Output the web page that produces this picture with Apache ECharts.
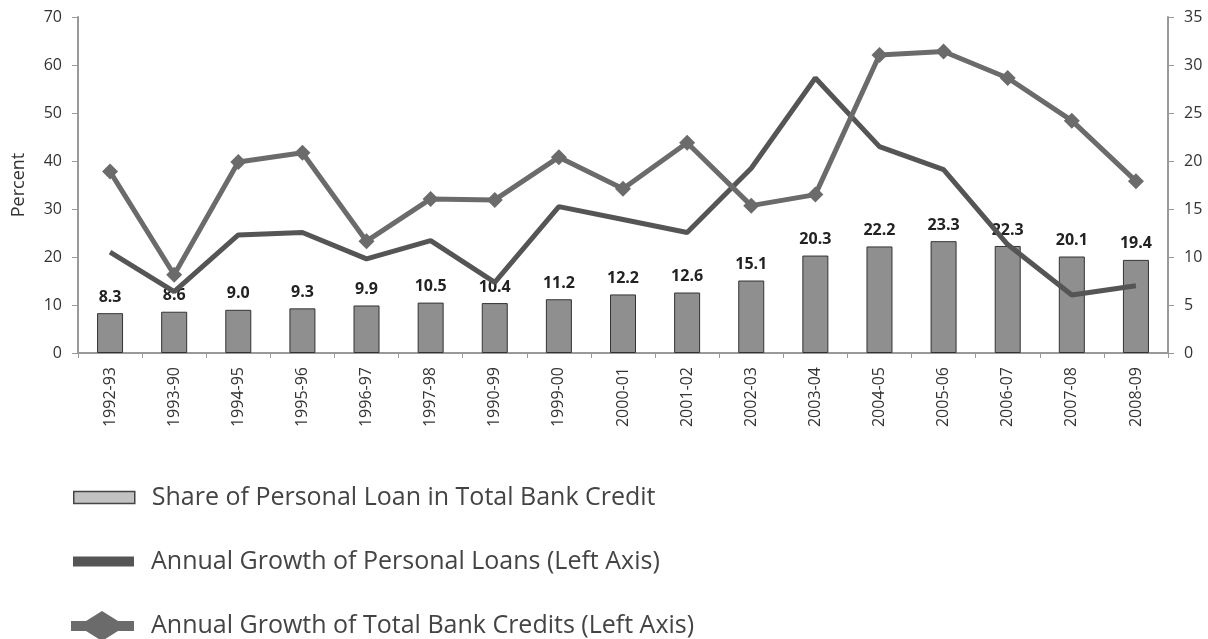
<!DOCTYPE html>
<html><head><meta charset="utf-8">
<script src="https://cdn.jsdelivr.net/npm/echarts@6/dist/echarts.min.js"></script>
<style>html,body{margin:0;padding:0;background:#fff}#c{width:1208px;height:639px}</style>
</head><body><div id="c"></div>
<script>
const categories = ['1992-93','1993-90','1994-95','1995-96','1996-97','1997-98','1990-99','1999-00','2000-01','2001-02','2002-03','2003-04','2004-05','2005-06','2006-07','2007-08','2008-09'];
const shareValues = [8.3,8.6,9.0,9.3,9.9,10.5,10.4,11.2,12.2,12.6,15.1,20.3,22.2,23.3,22.3,20.1,19.4];
const personalLoanGrowth = [21.0,12.8,24.6,25.1,19.6,23.4,14.7,30.5,27.8,25.1,38.5,57.3,43.0,38.2,22.6,12.1,14.0];
const totalCreditGrowth = [37.8,16.3,39.8,41.7,23.3,32.1,31.9,40.8,34.2,43.8,30.7,33.0,62.1,62.8,57.3,48.4,35.8];
const seriesNames = ['Share of Personal Loan in Total Bank Credit','Annual Growth of Personal Loans (Left Axis)','Annual Growth of Total Bank Credits (Left Axis)'];

const FONT = '"Open Sans", "Noto Sans", sans-serif';
const legendText = {fontSize:25,color:'#444',fontFamily:FONT,padding:[0,0,0,12]};
const chart = echarts.init(document.getElementById('c'), null, {renderer:'canvas'});
chart.setOption({
  animation:false,
  backgroundColor:'#fff',
  textStyle:{fontFamily:FONT},
  grid:{left:78,right:40,top:17,bottom:286},
  legend:[
    {left:68, top:480, itemWidth:61, itemHeight:12, textStyle:legendText, selectedMode:false,
     data:[{name:seriesNames[0], icon:'rect', itemStyle:{color:'#c2c2c2',borderColor:'#444',borderWidth:1.5}}]},
    {left:68, top:544, itemWidth:61, itemHeight:10, textStyle:legendText, selectedMode:false,
     data:[{name:seriesNames[1], icon:'rect', itemStyle:{color:'#555',borderWidth:0}}]},
    {left:66, top:606, itemWidth:63, itemHeight:30, textStyle:legendText, selectedMode:false,
     data:[{name:seriesNames[2], icon:'path://M0,10 L15,10 L31,0 L47,10 L63,10 L63,20 L47,20 L31,30 L15,20 L0,20 Z',
            itemStyle:{color:'#6b6b6b',borderWidth:0}}]}
  ],
  xAxis:{
    type:'category', data:categories,
    axisLine:{lineStyle:{color:'#999',width:2}},
    axisTick:{show:true,lineStyle:{color:'#999'},length:5},
    axisLabel:{rotate:90,fontSize:16,color:'#333',margin:14,fontFamily:FONT}
  },
  yAxis:[
    {type:'value',min:0,max:70,interval:10,name:'Percent',nameLocation:'middle',nameGap:50,
     nameTextStyle:{fontSize:18,color:'#333'},
     axisLine:{show:true,lineStyle:{color:'#999',width:2}},
     axisTick:{show:true,length:6,lineStyle:{color:'#999'}},
     axisLabel:{fontSize:16,color:'#333',margin:16},
     splitLine:{show:false}},
    {type:'value',min:0,max:35,interval:5,position:'right',
     axisLine:{show:true,lineStyle:{color:'#999',width:2}},
     axisTick:{show:true,length:6,lineStyle:{color:'#999'}},
     axisLabel:{fontSize:16,color:'#333',margin:16},
     splitLine:{show:false}}
  ],
  series:[
    {name:seriesNames[0],type:'bar',data:shareValues,barWidth:26,yAxisIndex:0,
     itemStyle:{color:'#8f8f8f',borderColor:'#333',borderWidth:1},
     label:{show:true,position:'top',distance:8,fontSize:16,color:'#222',fontWeight:'bold',
            formatter:p=>p.value.toFixed(1)},
     z:1},
    {name:seriesNames[1],type:'line',data:personalLoanGrowth,yAxisIndex:0,
     symbol:'none',lineStyle:{color:'#555',width:5},itemStyle:{color:'#555'},z:3},
    {name:seriesNames[2],type:'line',data:totalCreditGrowth,yAxisIndex:0,
     symbol:'diamond',symbolSize:16,showSymbol:true,
     lineStyle:{color:'#6b6b6b',width:5},itemStyle:{color:'#6b6b6b'},z:4}
  ]
});
</script></body></html>
